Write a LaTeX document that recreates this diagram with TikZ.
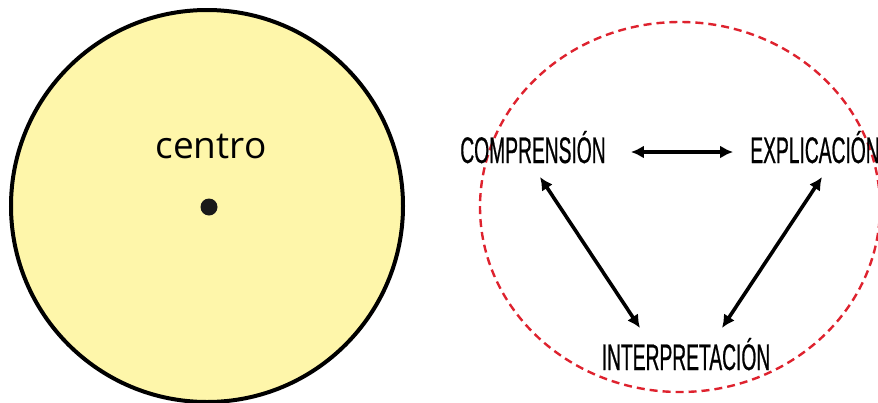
\documentclass[tikz,border=0pt]{standalone}
\usepackage{fontspec}
\usepackage{xcolor}
\usepackage{tikz}
\usetikzlibrary{calc, positioning, arrows.meta}
\newfontfamily\centrofont{Open Sans}
\newfontfamily\condfont[FakeStretch=0.52, FakeBold=0.6]{Liberation Sans}
\definecolor{paleyellow}{RGB}{254,246,170}
\definecolor{dashred}{RGB}{222,34,46}

\begin{document}
\begin{tikzpicture}[
    x=1pt, y=-1pt,
    word/.style={inner sep=0pt, anchor=base, font=\condfont\fontsize{37}{37}\selectfont},
    arr/.style={{Latex[length=13pt,width=13pt]}-{Latex[length=13pt,width=13pt]}, line width=3.6pt}
]
\clip (0,0) rectangle (878,402);
% left: circle with its centre
\node[circle, draw, line width=4pt, fill=paleyellow, minimum size=392pt] (rueda) at (207,206) {};
\node[inner sep=0pt, font=\centrofont\fontsize{37}{37}\selectfont] (centro) at (211,146) {centro};
\node[circle, fill=black!90, inner sep=0pt, minimum size=17pt] (punto) at (209,207) {};
% right: the three terms
\draw[dashred, line width=2.4pt, dash pattern=on 8pt off 5pt] (680,207) ellipse [x radius=200, y radius=185];
\node[word] (comp) at (533,163) {COMPRENSIÓN};
\node[word] (expl) at (815,163) {EXPLICACIÓN};
\node[word] (interp) at (686,370) {INTERPRETACIÓN};
\draw[arr] ([xshift=25pt,yshift=11pt]comp.base east) -- ([xshift=-17pt,yshift=11pt]expl.base west);
\draw[arr] ([xshift=7pt,yshift=-14pt]comp.base) -- ([xshift=-46pt,yshift=42pt]interp.base);
\draw[arr] ([xshift=7pt,yshift=-14pt]expl.base) -- ([xshift=36pt,yshift=42pt]interp.base);
\end{tikzpicture}
\end{document}
